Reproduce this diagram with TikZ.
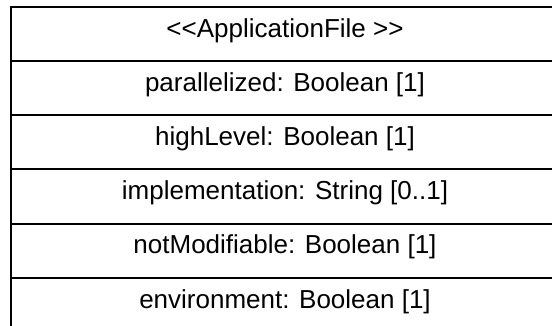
\documentclass[tikz,border=0pt]{standalone}
\usepackage{fontspec}
% plain family, so that << and >> stay as typed
\newfontfamily\labelfont{Liberation Sans}
\begin{document}
\begin{tikzpicture}[x=1pt,y=-1pt,
  rule/.style={line width=2pt, line join=miter},
  field/.style={anchor=base, inner sep=0pt, font=\labelfont\fontsize{26}{30}\selectfont}]
\useasboundingbox (0,0) rectangle (552,326);
% outer frame: top edge and left edge
\draw[rule] (552,7) -- (11,7) -- (11,327);
% row separators
\foreach \y in {61,115,169,224,278}
  \draw[rule] (11,\y) -- (552,\y);
% class header and attributes
\node[field] (hdr)  at (285,37.5)  {<<ApplicationFile >>};
\node[field] (par)  at (285,91.5)  {parallelized: Boolean [1]};
\node[field] (high) at (285,145.5) {highLevel: Boolean [1]};
\node[field] (impl) at (285,199.5) {implementation: String [0..1]};
\node[field] (nmod) at (285,254)   {notModifiable: Boolean [1]};
\node[field] (env)  at (285,308)   {environment: Boolean [1]};
\end{tikzpicture}
\end{document}
